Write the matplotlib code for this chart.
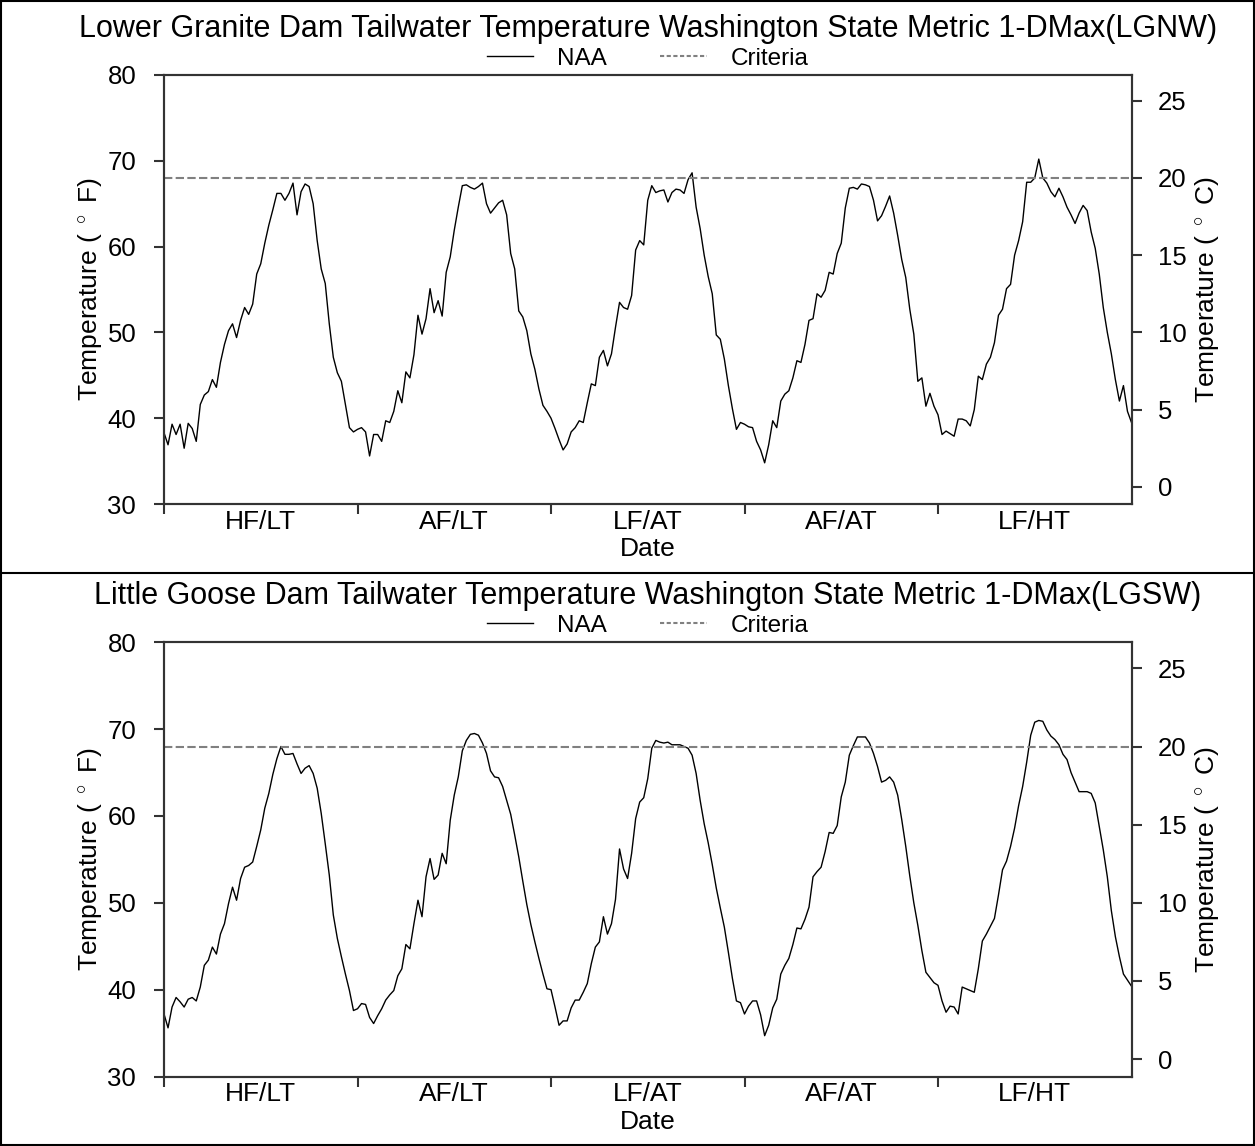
import numpy as np
import matplotlib
matplotlib.use("Agg")
import matplotlib.pyplot as plt
from matplotlib.lines import Line2D

plt.rcParams['font.family'] = ['Liberation Sans', 'DejaVu Sans']
plt.rcParams['mathtext.fontset'] = 'custom'
plt.rcParams['mathtext.rm'] = 'Liberation Sans'
plt.rcParams['mathtext.it'] = 'Liberation Sans'

# ---------------- data (deg F), 48 samples per simulated year + final value ----
scenarios = ["HF/LT", "AF/LT", "LF/AT", "AF/AT", "LF/HT"]
criteria_F = 68.0

lgnw_y1 = [38.3, 36.9, 39.3, 38.1, 39.3, 36.5, 39.4, 38.8, 37.3, 41.6, 42.7, 43.1,
           44.5, 43.6, 46.5, 48.6, 50.2, 51.0, 49.4, 51.4, 52.9, 52.1, 53.3, 56.8,
           58.0, 60.4, 62.5, 64.3, 66.2, 66.2, 65.4, 66.2, 67.4, 63.7, 66.4, 67.3,
           67.0, 65.0, 60.7, 57.4, 55.7, 51.0, 47.1, 45.3, 44.3, 41.6, 38.9, 38.4]
lgnw_y2 = [38.7, 38.9, 38.4, 35.6, 38.1, 38.1, 37.3, 39.7, 39.5, 40.8, 43.2, 41.8,
           45.4, 44.7, 47.4, 52.0, 49.8, 51.6, 55.1, 52.3, 53.7, 51.9, 57.0, 58.8,
           61.9, 64.6, 67.1, 67.2, 66.9, 66.7, 67.0, 67.4, 65.0, 63.9, 64.5, 65.1,
           65.4, 63.7, 59.2, 57.4, 52.5, 51.8, 50.2, 47.5, 45.7, 43.4, 41.5, 40.8]
lgnw_y3 = [40.0, 38.8, 37.5, 36.3, 37.0, 38.4, 38.9, 39.7, 39.5, 41.8, 44.0, 43.8,
           47.1, 47.9, 46.1, 47.5, 50.6, 53.5, 52.9, 52.7, 54.3, 59.6, 60.7, 60.2,
           65.4, 67.1, 66.3, 66.5, 66.6, 65.2, 66.3, 66.7, 66.6, 66.2, 67.8, 68.6,
           64.6, 62.1, 59.0, 56.5, 54.5, 49.7, 49.2, 46.9, 43.8, 41.1, 38.7, 39.5]
lgnw_y4 = [39.3, 39.0, 38.9, 37.3, 36.3, 34.8, 36.9, 39.7, 38.9, 42.0, 42.8, 43.2,
           44.7, 46.7, 46.5, 48.6, 51.4, 51.6, 54.5, 54.1, 54.9, 57.0, 56.8, 59.2,
           60.4, 64.5, 66.8, 66.9, 66.7, 67.3, 67.2, 67.0, 65.4, 63.0, 63.6, 64.7,
           65.9, 63.9, 61.3, 58.5, 56.4, 52.7, 49.8, 44.3, 44.7, 41.4, 42.9, 41.4]
lgnw_y5 = [40.4, 38.1, 38.5, 38.2, 37.9, 39.9, 39.9, 39.7, 39.1, 41.0, 44.9, 44.5,
           46.3, 47.1, 48.8, 52.0, 52.7, 55.1, 55.6, 59.0, 60.7, 62.9, 67.5, 67.5,
           68.0, 70.2, 68.0, 67.4, 66.4, 65.8, 66.8, 65.8, 64.6, 63.7, 62.7, 63.9,
           64.8, 64.2, 61.7, 59.8, 56.8, 52.9, 50.0, 47.5, 44.5, 42.0, 43.8, 40.8,
           39.5]

lgsw_y1 = [37.2, 35.6, 38.0, 39.1, 38.6, 38.0, 38.9, 39.1, 38.7, 40.3, 42.8, 43.4,
           44.9, 44.1, 46.4, 47.6, 49.9, 51.8, 50.3, 52.8, 54.1, 54.3, 54.7, 56.5,
           58.4, 60.9, 62.6, 64.8, 66.6, 68.0, 67.1, 67.1, 67.2, 66.0, 64.9, 65.5,
           65.8, 64.9, 63.2, 60.3, 56.8, 53.2, 48.6, 45.9, 43.8, 41.8, 39.9, 37.6]
lgsw_y2 = [37.8, 38.4, 38.3, 36.8, 36.1, 37.0, 37.8, 38.8, 39.4, 39.9, 41.6, 42.4,
           45.2, 44.7, 47.6, 50.3, 48.4, 53.0, 55.1, 52.7, 53.2, 55.7, 54.5, 59.5,
           62.4, 64.5, 67.5, 68.7, 69.4, 69.5, 69.3, 68.4, 67.2, 65.2, 64.5, 64.4,
           63.4, 61.8, 60.2, 57.8, 55.3, 52.5, 49.8, 47.5, 45.5, 43.6, 41.8, 40.1]
lgsw_y3 = [40.0, 38.0, 35.9, 36.4, 36.4, 37.9, 38.8, 38.8, 39.7, 40.7, 43.0, 44.9,
           45.5, 48.4, 46.4, 47.6, 50.4, 56.2, 53.9, 52.8, 55.7, 59.7, 61.6, 62.1,
           64.3, 67.8, 68.7, 68.5, 68.4, 68.5, 68.2, 68.2, 68.2, 68.0, 67.8, 67.0,
           64.9, 61.8, 59.1, 56.9, 54.4, 51.7, 49.4, 47.2, 44.3, 41.3, 38.7, 38.5]
lgsw_y4 = [37.2, 38.1, 38.7, 38.7, 37.1, 34.7, 35.9, 37.9, 38.9, 41.8, 42.8, 43.6,
           45.2, 47.1, 47.0, 48.1, 49.5, 53.0, 53.6, 54.1, 55.9, 58.1, 58.0, 58.9,
           62.2, 63.9, 67.0, 68.1, 69.1, 69.1, 69.1, 68.4, 67.2, 65.7, 63.9, 64.1,
           64.5, 63.9, 62.4, 59.6, 56.5, 53.1, 50.0, 47.4, 44.5, 42.0, 41.4, 40.8]
lgsw_y5 = [40.5, 38.7, 37.4, 38.1, 38.0, 37.2, 40.3, 40.1, 39.9, 39.7, 42.4, 45.6,
           46.4, 47.3, 48.2, 50.9, 53.8, 54.8, 56.5, 58.6, 61.2, 63.4, 66.2, 69.3,
           70.8, 71.0, 70.9, 69.9, 69.2, 68.8, 68.2, 67.1, 66.5, 65.0, 63.9, 62.8,
           62.8, 62.8, 62.6, 61.5, 58.8, 56.1, 53.0, 49.1, 46.1, 43.8, 41.8, 41.1,
           40.4]

lgnw = lgnw_y1 + lgnw_y2 + lgnw_y3 + lgnw_y4 + lgnw_y5
lgsw = lgsw_y1 + lgsw_y2 + lgsw_y3 + lgsw_y4 + lgsw_y5
t = np.arange(len(lgnw)) / 48.0   # simulated years

panels = [
    ("Lower Granite Dam Tailwater Temperature Washington State Metric 1-DMax(LGNW)", lgnw),
    ("Little Goose Dam Tailwater Temperature Washington State Metric 1-DMax(LGSW)", lgsw),
]

# ---------------- figure ----------------
W, H = 1255, 1146
fig = plt.figure(figsize=(W / 100, H / 100), dpi=100)

def px_axes(left, top, right, bottom):
    return [left / W, 1 - bottom / H, (right - left) / W, (bottom - top) / H]

rects = [px_axes(164, 75, 1131.5, 504), px_axes(164, 642.3, 1131.5, 1076.5)]
spine_c = '#333333'
crit_c = '#808080'

for (title, vals), rect in zip(panels, rects):
    ax = fig.add_axes(rect)
    ax.plot(t, vals, color='black', lw=1.0)
    ax.axhline(criteria_F, color=crit_c, lw=1.5, ls=(0, (4, 1.6)))
    ax.set_xlim(0, 5)
    ax.set_ylim(30, 80)
    ax.set_yticks([30, 40, 50, 60, 70, 80])
    ax.set_xticks([0, 1, 2, 3, 4])
    ax.set_xticklabels([])
    ax.set_xticks([0.5, 1.5, 2.5, 3.5, 4.5], minor=True)
    ax.set_xticklabels(scenarios, minor=True)
    ax.tick_params(axis='x', which='major', direction='out', length=7, width=1.5, color=spine_c)
    ax.tick_params(axis='x', which='minor', length=0, pad=4, labelsize=19)
    ax.tick_params(axis='y', direction='out', length=7, width=1.5, color=spine_c,
                   pad=13, labelsize=18.5)
    for s in ax.spines.values():
        s.set_color(spine_c)
        s.set_linewidth(1.5)
    ax.set_ylabel(r'Temperature ( $^\circ$ F)', fontsize=19)
    ax.yaxis.set_label_coords(-0.0625, 0.5)
    ax.set_xlabel('Date', fontsize=19)
    ax.xaxis.set_label_coords(0.5, -0.078)

    axr = ax.twinx()
    axr.set_ylim((30 - 32) / 1.8, (80 - 32) / 1.8)
    axr.set_yticks([0, 5, 10, 15, 20, 25])
    axr.tick_params(axis='y', direction='out', length=7, width=1.5, color=spine_c,
                    pad=12, labelsize=18.5)
    for s in axr.spines.values():
        s.set_color(spine_c)
        s.set_linewidth(1.5)
    axr.set_ylabel(r'Temperature ( $^\circ$ C)', fontsize=19)
    axr.yaxis.set_label_coords(1.0636, 0.5)

    ax.set_title(title, fontsize=22, pad=27.5)
    handles = [Line2D([], [], color='black', lw=1.0),
               Line2D([], [], color=crit_c, lw=1.5, ls=(0, (2, 1.2)))]
    ax.legend(handles, ['NAA', 'Criteria'], loc='center', bbox_to_anchor=(0.5, 1.038),
              ncol=2, frameon=False, fontsize=17.5, handlelength=1.9,
              handletextpad=1.0, columnspacing=2.2, borderpad=0, borderaxespad=0)

# panel borders
lc = 'black'
for x0, y0, x1, y1 in [(0.001, 0, 0.001, 1), (0.999, 0, 0.999, 1),
                       (0, 0.999, 1, 0.999), (0, 0.001, 1, 0.001),
                       (0, 1 - 573 / H, 1, 1 - 573 / H)]:
    fig.add_artist(Line2D([x0, x1], [y0, y1], transform=fig.transFigure,
                          color=lc, lw=1.5))

fig.savefig('out.png', dpi=100)
